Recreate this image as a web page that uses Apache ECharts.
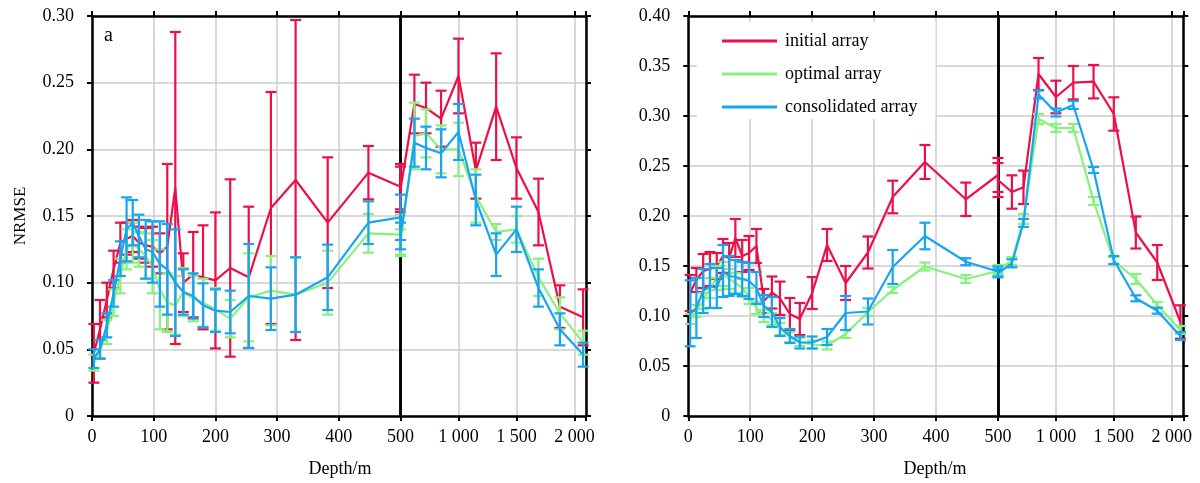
<!DOCTYPE html>
<html>
<head>
<meta charset="utf-8">
<script src="https://cdn.jsdelivr.net/npm/echarts@6/dist/echarts.min.js"></script>
<style>
  html, body { margin: 0; padding: 0; background: #fff; }
  #chart { width: 1200px; height: 483px; }
</style>
</head>
<body>
<div id="chart"></div>
<script>
// Sampling depths (m): shallow part (0-500 m) and deep part (500-2100 m)
const depthShallow = [3, 13, 24, 35, 46, 56, 66, 76, 87, 98, 110, 122, 135, 148, 164, 180, 200, 224, 254, 290, 330, 382, 448, 500];
const depthDeep = [500, 620, 720, 850, 1000, 1150, 1325, 1500, 1690, 1875, 2075];

// Tick values and labels
const shallowTicks = [0, 100, 200, 300, 400, 500];
const deepTicks = [1000, 1500, 2000];
const deepTickLabels = ['1 000', '1 500', '2 000'];
const seriesNames = ['initial array', 'optimal array', 'consolidated array'];

// Panel a: mean NRMSE and standard deviation
const aInitialShallow = [0.047, 0.065, 0.087, 0.11, 0.13, 0.133, 0.135, 0.13, 0.128, 0.127, 0.122, 0.127, 0.171, 0.1, 0.106, 0.104, 0.1017, 0.111, 0.104, 0.156, 0.177, 0.145, 0.1825, 0.172];
const aInitialShallowSd = [0.022, 0.022, 0.013, 0.014, 0.015, 0.012, 0.012, 0.012, 0.013, 0.015, 0.015, 0.062, 0.117, 0.022, 0.032, 0.039, 0.051, 0.0665, 0.053, 0.087, 0.12, 0.049, 0.02, 0.017];
const aOptimalShallow = [0.04, 0.05, 0.063, 0.085, 0.105, 0.125, 0.13, 0.125, 0.12, 0.112, 0.095, 0.085, 0.083, 0.093, 0.088, 0.085, 0.08, 0.073, 0.089, 0.094, 0.091, 0.1, 0.137, 0.136];
const aOptimalShallowSd = [0.006, 0.007, 0.009, 0.01, 0.013, 0.015, 0.015, 0.013, 0.017, 0.02, 0.03, 0.022, 0.022, 0.018, 0.017, 0.018, 0.016, 0.014, 0.033, 0.026, 0.028, 0.024, 0.0145, 0.015];
const aConsolShallow = [0.043, 0.05, 0.068, 0.092, 0.118, 0.14, 0.145, 0.135, 0.125, 0.123, 0.114, 0.11, 0.1, 0.093, 0.09, 0.083, 0.079, 0.078, 0.09, 0.088, 0.091, 0.104, 0.145, 0.149];
const aConsolShallowSd = [0.007, 0.007, 0.009, 0.01, 0.013, 0.024, 0.017, 0.016, 0.022, 0.023, 0.032, 0.034, 0.04, 0.017, 0.017, 0.0165, 0.016, 0.016, 0.039, 0.0235, 0.028, 0.0245, 0.016, 0.017];

const aInitialDeep = [0.17, 0.234, 0.231, 0.223, 0.255, 0.184, 0.232, 0.186, 0.153, 0.082, 0.074];
const aInitialDeepSd = [0.017, 0.022, 0.019, 0.021, 0.028, 0.021, 0.04, 0.023, 0.025, 0.016, 0.021];
const aOptimalDeep = [0.13, 0.21, 0.212, 0.2, 0.2, 0.165, 0.138, 0.14, 0.104, 0.077, 0.055];
const aOptimalDeepSd = [0.01, 0.025, 0.018, 0.018, 0.02, 0.02, 0.006, 0.01, 0.014, 0.012, 0.009];
const aConsolDeep = [0.135, 0.205, 0.201, 0.197, 0.213, 0.162, 0.121, 0.14, 0.096, 0.065, 0.046];
const aConsolDeepSd = [0.01, 0.018, 0.016, 0.018, 0.021, 0.019, 0.016, 0.017, 0.014, 0.012, 0.009];

// Panel b: mean NRMSE and standard deviation
const bInitialShallow = [0.123, 0.136, 0.145, 0.147, 0.15, 0.16, 0.158, 0.178, 0.16, 0.163, 0.17, 0.115, 0.1235, 0.1177, 0.102, 0.097, 0.123, 0.171, 0.133, 0.1635, 0.219, 0.254, 0.2167, 0.241];
const bInitialShallowSd = [0.018, 0.012, 0.017, 0.017, 0.013, 0.017, 0.015, 0.019, 0.016, 0.017, 0.017, 0.012, 0.016, 0.0167, 0.016, 0.016, 0.016, 0.016, 0.017, 0.016, 0.0163, 0.017, 0.0167, 0.017];
const bOptimalShallow = [0.097, 0.105, 0.115, 0.128, 0.138, 0.142, 0.137, 0.133, 0.128, 0.12, 0.108, 0.1, 0.097, 0.087, 0.079, 0.074, 0.0715, 0.0705, 0.082, 0.104, 0.126, 0.1495, 0.137, 0.145];
const bOptimalShallowSd = [0.005, 0.006, 0.008, 0.01, 0.012, 0.012, 0.01, 0.01, 0.009, 0.008, 0.006, 0.006, 0.006, 0.006, 0.005, 0.004, 0.004, 0.004, 0.004, 0.004, 0.003, 0.004, 0.004, 0.004];
const bConsolShallow = [0.1027, 0.108, 0.125, 0.13, 0.128, 0.145, 0.14, 0.139, 0.137, 0.135, 0.128, 0.11, 0.104, 0.089, 0.08, 0.0735, 0.0735, 0.079, 0.103, 0.1045, 0.149, 0.18, 0.1543, 0.1445];
const bConsolShallowSd = [0.033, 0.03, 0.022, 0.022, 0.02, 0.026, 0.02, 0.017, 0.017, 0.018, 0.016, 0.011, 0.015, 0.009, 0.007, 0.006, 0.006, 0.008, 0.017, 0.013, 0.017, 0.0133, 0.0035, 0.005];

const bInitialDeep = [0.236, 0.224, 0.2287, 0.342, 0.319, 0.3333, 0.3343, 0.302, 0.1835, 0.1535, 0.094];
const bInitialDeepSd = [0.017, 0.0167, 0.0167, 0.016, 0.0163, 0.0167, 0.0167, 0.0167, 0.016, 0.0175, 0.0167];
const bOptimalDeep = [0.147, 0.155, 0.197, 0.297, 0.288, 0.288, 0.215, 0.155, 0.137, 0.111, 0.086];
const bOptimalDeepSd = [0.004, 0.004, 0.005, 0.005, 0.004, 0.004, 0.004, 0.004, 0.005, 0.003, 0.004];
const bConsolDeep = [0.1427, 0.1527, 0.193, 0.3215, 0.3035, 0.311, 0.246, 0.156, 0.1177, 0.1053, 0.08];
const bConsolDeepSd = [0.004, 0.004, 0.004, 0.004, 0.004, 0.004, 0.003, 0.004, 0.003, 0.003, 0.004];

const colors = ['#EC1049', '#86F27C', '#16A5F2'];
const fontFamily = "'Liberation Serif', 'Times New Roman', Times, serif";
const black = '#000';
const gridColor = '#cccccc';

// Plot rectangles (px): each panel = shallow part + deep part
const grids = [
  { left: 92, top: 16, width: 308.5, height: 400 },
  { left: 400.5, top: 16, width: 185.5, height: 400 },
  { left: 688.3, top: 16, width: 309.7, height: 400 },
  { left: 998, top: 16, width: 185.3, height: 400 }
];

const yFmt = v => (Math.abs(v) < 1e-9 ? '0' : v.toFixed(2));
const tickStyle = { show: true, length: 5, lineStyle: { color: black, width: 2 } };
const axisLineStyle = { show: true, onZero: false, lineStyle: { color: black, width: 2.5 } };
const splitStyle = { show: true, lineStyle: { color: gridColor, width: 1.5 } };
const labelText = { fontFamily, fontSize: 18, color: black };

const xAxes = [];
const yAxes = [];
grids.forEach((g, gi) => {
  const deep = gi % 2 === 1;
  const yMax = gi < 2 ? 0.30 : 0.40;
  const xRange = deep ? { min: 500, max: 2100, interval: 500 } : { min: 0, max: 500, interval: 100 };
  // bottom axis with labels
  xAxes.push(Object.assign({
    type: 'value', gridIndex: gi, position: 'bottom',
    axisLine: axisLineStyle, axisTick: tickStyle, splitLine: splitStyle,
    axisLabel: Object.assign({
      margin: 12,
      formatter: v => {
        if (deep) { const i = deepTicks.indexOf(v); return i >= 0 ? deepTickLabels[i] : ''; }
        return shallowTicks.indexOf(v) >= 0 ? String(v) : '';
      }
    }, labelText)
  }, xRange));
  // top frame axis (ticks only)
  xAxes.push(Object.assign({
    type: 'value', gridIndex: gi, position: 'top',
    axisLine: axisLineStyle, axisTick: tickStyle, splitLine: { show: false }, axisLabel: { show: false }
  }, xRange));
  // left axis
  yAxes.push({
    type: 'value', gridIndex: gi, position: 'left', min: 0, max: yMax, interval: 0.05,
    axisLine: axisLineStyle,
    axisTick: deep ? { show: false } : tickStyle,
    splitLine: splitStyle,
    axisLabel: deep ? { show: false } : Object.assign({ margin: 18, formatter: yFmt }, labelText)
  });
  // right axis
  yAxes.push({
    type: 'value', gridIndex: gi, position: 'right', min: 0, max: yMax, interval: 0.05,
    axisLine: axisLineStyle,
    axisTick: deep ? tickStyle : { show: false },
    splitLine: { show: false }, axisLabel: { show: false }
  });
});

function renderErrorBar(params, api) {
  const x = api.value(0), m = api.value(1), s = api.value(2);
  const top = api.coord([x, m + s]);
  const bot = api.coord([x, m - s]);
  const w = 5.5;
  const style = { stroke: api.visual('color'), lineWidth: 2.2 };
  return {
    type: 'group',
    children: [
      { type: 'line', shape: { x1: top[0], y1: top[1], x2: bot[0], y2: bot[1] }, style },
      { type: 'line', shape: { x1: top[0] - w, y1: top[1], x2: top[0] + w, y2: top[1] }, style },
      { type: 'line', shape: { x1: bot[0] - w, y1: bot[1], x2: bot[0] + w, y2: bot[1] }, style }
    ]
  };
}

const lineSeries = [];
const errSeries = [];
function addGroup(gi, depths, meansList, sdList) {
  meansList.forEach((means, k) => {
    const color = colors[k];
    const z = 2 + k;
    lineSeries.push({
      type: 'line', name: seriesNames[k], xAxisIndex: gi * 2, yAxisIndex: gi * 2,
      data: depths.map((d, i) => [d, means[i]]),
      showSymbol: false, symbol: 'none',
      lineStyle: { color, width: 2.2 }, itemStyle: { color }, z, animation: false
    });
    errSeries.push({
      type: 'custom', name: seriesNames[k], xAxisIndex: gi * 2, yAxisIndex: gi * 2,
      data: depths.map((d, i) => [d, means[i], sdList[k][i]]),
      encode: { x: 0, y: 1 },
      renderItem: renderErrorBar, itemStyle: { color }, z, animation: false
    });
  });
}
addGroup(0, depthShallow, [aInitialShallow, aOptimalShallow, aConsolShallow], [aInitialShallowSd, aOptimalShallowSd, aConsolShallowSd]);
addGroup(1, depthDeep, [aInitialDeep, aOptimalDeep, aConsolDeep], [aInitialDeepSd, aOptimalDeepSd, aConsolDeepSd]);
addGroup(2, depthShallow, [bInitialShallow, bOptimalShallow, bConsolShallow], [bInitialShallowSd, bOptimalShallowSd, bConsolShallowSd]);
addGroup(3, depthDeep, [bInitialDeep, bOptimalDeep, bConsolDeep], [bInitialDeepSd, bOptimalDeepSd, bConsolDeepSd]);

const chart = echarts.init(document.getElementById('chart'), null, { renderer: 'canvas' });
chart.setOption({
  backgroundColor: '#fff',
  animation: false,
  grid: grids,
  xAxis: xAxes,
  yAxis: yAxes,
  legend: {
    data: seriesNames.map(n => ({ name: n, icon: 'rect' })),
    orient: 'vertical', left: 697, top: 22,
    padding: [9, 18, 2, 25],
    backgroundColor: '#fff',
    itemWidth: 55, itemHeight: 3, itemGap: 13,
    selectedMode: false,
    textStyle: { fontFamily, fontSize: 18, lineHeight: 20, color: black, padding: [0, 0, 0, 3] }
  },
  graphic: [
    { type: 'text', x: 20.5, y: 216, rotation: Math.PI / 2,
      style: { text: 'NRMSE', fontFamily, fontSize: 17, fill: black, align: 'center', verticalAlign: 'middle' } },
    { type: 'text', x: 340, y: 469.5,
      style: { text: 'Depth/m', fontFamily, fontSize: 18, fill: black, align: 'center', verticalAlign: 'middle' } },
    { type: 'text', x: 935, y: 469.5,
      style: { text: 'Depth/m', fontFamily, fontSize: 18, fill: black, align: 'center', verticalAlign: 'middle' } },
    { type: 'text', x: 104, y: 36,
      style: { text: 'a', fontFamily, fontSize: 20, fill: black, align: 'left', verticalAlign: 'middle' } },
    { type: 'text', x: 701.5, y: 35.5,
      style: { text: 'b', fontFamily, fontSize: 20, fill: black, align: 'left', verticalAlign: 'middle' } }
  ],
  series: lineSeries.concat(errSeries)
});
</script>
</body>
</html>
